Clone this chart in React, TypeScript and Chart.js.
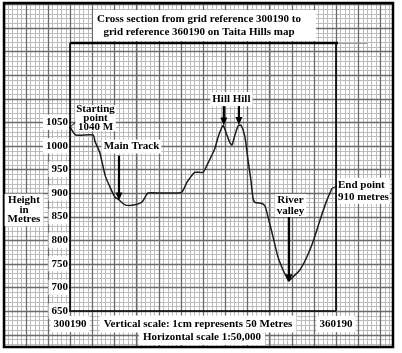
import React, { useEffect, useRef } from 'react';
import { Chart, registerables } from 'chart.js';

Chart.register(...registerables);

// Profile data: distance along the section (km from 300190) and height (m)
const distanceKm = [
  0, 0.13, 0.52, 0.565, 0.675, 0.79, 0.9, 1.015, 1.085, 1.24, 1.465, 1.625, 1.76, 2.03, 2.435, 2.525,
  2.64, 2.705, 2.82, 3.0, 3.11, 3.27, 3.34, 3.43, 3.46, 3.54, 3.61, 3.655, 3.72, 3.79, 3.855, 3.945,
  4.015, 4.08, 4.125, 4.17, 4.33, 4.4, 4.465, 4.58, 4.69, 4.805, 4.895, 4.93, 5.005, 5.185, 5.345,
  5.48, 5.64, 5.795, 5.91,
];
const heightM = [
  1040, 1023, 1023, 1009, 985, 938, 913, 891, 887, 875, 875, 881, 900, 900, 900, 902,
  923, 932, 944, 944, 963, 995, 1019, 1040, 1043, 1023, 1006, 1002, 1023, 1042, 1044, 1019,
  970, 928, 891, 880, 878, 872, 850, 807, 765, 737, 720, 714, 720, 737, 765,
  796, 843, 885, 910,
];

const yTickValues = [650, 700, 750, 800, 850, 900, 950, 1000, 1050];
const xTickValues = [0, 6];
const xTickLabels = ['300190', '360190'];

const titleLines = ['Cross section from grid reference 300190 to', 'grid reference 360190 on Taita Hills map'];
const yAxisTitle = ['Height', 'in', 'Metres'];
const scaleNotes = ['Vertical scale: 1cm represents 50 Metres', 'Horizontal scale 1:50,000'];
const startLabel = ['Starting', 'point', '1040 M'];
const endLabel = ['End point', '910 metres'];
const mainTrackLabel = 'Main Track';
const hillLabel = 'Hill Hill';
const riverLabel = ['River', 'valley'];

// feature locations (km, m)
const mainTrack = { km: 1.105, m: 884 };
const hillPeaks = [
  { km: 3.47, m: 1043 },
  { km: 3.81, m: 1044 },
];
const riverValley = { km: 4.94, m: 711 };

const FONT = 'bold 11px "Liberation Serif", "Times New Roman", serif';

function textBox(
  ctx: CanvasRenderingContext2D,
  lines: string[],
  x: number,
  y: number,
  lineH: number,
  align: 'left' | 'center' | 'right' = 'center',
  padX = 2,
  padY = 1,
) {
  ctx.save();
  ctx.font = FONT;
  const widths = lines.map((l) => ctx.measureText(l).width);
  const w = Math.max(...widths);
  const h = lineH * lines.length;
  let left = x;
  if (align === 'center') left = x - w / 2;
  if (align === 'right') left = x - w;
  const top = y - lineH / 2;
  ctx.fillStyle = '#fff';
  ctx.fillRect(left - padX, top - padY, w + padX * 2, h + padY * 2);
  ctx.fillStyle = '#000';
  ctx.textBaseline = 'middle';
  ctx.textAlign = align;
  lines.forEach((l, i) => ctx.fillText(l, x, y + i * lineH));
  ctx.restore();
}

function arrow(ctx: CanvasRenderingContext2D, x: number, y0: number, y1: number) {
  ctx.save();
  ctx.strokeStyle = '#000';
  ctx.fillStyle = '#000';
  ctx.lineWidth = 2.2;
  ctx.beginPath();
  ctx.moveTo(x, y0);
  ctx.lineTo(x, y1 - 6);
  ctx.stroke();
  ctx.beginPath();
  ctx.moveTo(x - 3.5, y1 - 8);
  ctx.lineTo(x + 3.5, y1 - 8);
  ctx.lineTo(x, y1);
  ctx.closePath();
  ctx.fill();
  ctx.restore();
}

const FRAME = { l: 4, t: 3, r: 393, b: 347 };

const paperPlugin = {
  id: 'paper',
  beforeDraw(chart: any) {
    const { ctx, width, height } = chart;
    const xs = chart.scales.x;
    const ys = chart.scales.y;
    ctx.save();
    ctx.fillStyle = '#fff';
    ctx.fillRect(0, 0, width, height);
    ctx.beginPath();
    ctx.rect(FRAME.l, FRAME.t, FRAME.r - FRAME.l, FRAME.b - FRAME.t);
    ctx.clip();
    const ox = xs.getPixelForValue(0);
    const majX = xs.getPixelForValue(0.5) - ox;
    const oy = ys.getPixelForValue(650);
    const majY = oy - ys.getPixelForValue(700);
    const grid = (sx: number, sy: number, color: string, lw: number) => {
      ctx.strokeStyle = color;
      ctx.lineWidth = lw;
      ctx.beginPath();
      for (let x = ox - Math.ceil((ox - FRAME.l) / sx) * sx; x <= FRAME.r; x += sx) {
        const px = Math.round(x) + 0.5;
        ctx.moveTo(px, FRAME.t);
        ctx.lineTo(px, FRAME.b);
      }
      for (let y = oy - Math.floor((oy - FRAME.t) / sy) * sy; y <= FRAME.b; y += sy) {
        const py = Math.round(y) + 0.5;
        ctx.moveTo(FRAME.l, py);
        ctx.lineTo(FRAME.r, py);
      }
      ctx.stroke();
    };
    grid(majX / 5, majY / 5, '#bcbcbc', 1);
    grid(majX, majY, '#6a6a6a', 1.3);
    ctx.restore();
    ctx.save();
    ctx.strokeStyle = '#000';
    ctx.lineWidth = 2.5;
    ctx.strokeRect(FRAME.l, FRAME.t, FRAME.r - FRAME.l, FRAME.b - FRAME.t);
    ctx.restore();
  },
};

const annotationPlugin = {
  id: 'annot',
  afterDraw(chart: any) {
    const { ctx, chartArea } = chart;
    const xs = chart.scales.x;
    const ys = chart.scales.y;
    const { left, right, top, bottom } = chartArea;

    // plot frame
    ctx.save();
    ctx.strokeStyle = '#000';
    ctx.lineWidth = 1.6;
    ctx.beginPath();
    ctx.moveTo(left, top);
    ctx.lineTo(left, bottom);
    ctx.lineTo(right, bottom);
    ctx.moveTo(right, top);
    ctx.lineTo(right, bottom);
    ctx.stroke();
    ctx.lineWidth = 2.5;
    ctx.beginPath();
    ctx.moveTo(left, top);
    ctx.lineTo(right + 2, top);
    ctx.stroke();
    ctx.strokeStyle = '#999';
    ctx.lineWidth = 1;
    ctx.beginPath();
    ctx.moveTo(right + 2, top + 0.5);
    ctx.lineTo(right + 31, top + 0.5);
    ctx.stroke();
    ctx.restore();

    // title
    ctx.save();
    ctx.fillStyle = '#fff';
    ctx.fillRect(93, 10, 223, 31);
    ctx.restore();
    textBox(ctx, titleLines, 199, 19.5, 12.5, 'center', 0, 0);

    // y-axis title
    textBox(ctx, yAxisTitle, 24, 200.5, 9.5, 'center', 3, 2);

    // scale notes
    textBox(ctx, [scaleNotes[0]], 198, 324, 13, 'center', 4, 2);
    textBox(ctx, [scaleNotes[1]], 202, 337.5, 13, 'center', 4, 1);

    // start point
    const sx = xs.getPixelForValue(distanceKm[0]);
    const sy = ys.getPixelForValue(heightM[0]);
    ctx.save();
    ctx.strokeStyle = '#000';
    ctx.lineWidth = 1;
    ctx.beginPath();
    ctx.moveTo(sx - 1, sy + 1);
    ctx.lineTo(sx + 6, sy - 5);
    ctx.stroke();
    ctx.restore();
    textBox(ctx, startLabel, sx + 25.5, sy - 17.5, 8.7, 'center', 1, 0);

    // end point
    const ex = xs.getPixelForValue(distanceKm[distanceKm.length - 1]);
    const ey = ys.getPixelForValue(heightM[heightM.length - 1]);
    ctx.save();
    ctx.strokeStyle = '#000';
    ctx.lineWidth = 1;
    ctx.beginPath();
    ctx.moveTo(ex, ey);
    ctx.lineTo(ex + 6, ey - 3);
    ctx.stroke();
    ctx.restore();
    textBox(ctx, endLabel, ex + 6, ey - 3.5, 12, 'left', 1, 1);

    // main track
    const mx = xs.getPixelForValue(mainTrack.km);
    const my = ys.getPixelForValue(mainTrack.m);
    arrow(ctx, mx, my - 45, my);
    textBox(ctx, [mainTrackLabel], mx + 12.5, my - 54, 12, 'center', 2, 1);

    // hills
    const hx = hillPeaks.map((p) => xs.getPixelForValue(p.km));
    const hy = hillPeaks.map((p) => ys.getPixelForValue(p.m));
    hillPeaks.forEach((_, i) => arrow(ctx, hx[i], hy[i] - 21, hy[i]));
    textBox(ctx, [hillLabel], (hx[0] + hx[1]) / 2, Math.min(...hy) - 26, 12, 'center', 2, 1);

    // river valley
    const rx = xs.getPixelForValue(riverValley.km);
    const ry = ys.getPixelForValue(riverValley.m);
    arrow(ctx, rx, ry - 66, ry);
    textBox(ctx, riverLabel, rx + 1.5, ry - 82, 10.5, 'center', 2, 1);
  },
};

export default function App() {
  const ref = useRef<HTMLCanvasElement | null>(null);
  useEffect(() => {
    if (!ref.current) return;
    const chart = new Chart(ref.current, {
      type: 'line',
      data: {
        datasets: [
          {
            data: distanceKm.map((d, i) => ({ x: d, y: heightM[i] })),
            borderColor: '#1c1c1c',
            borderWidth: 1.5,
            pointRadius: 0,
            tension: 0.2,
            fill: false,
          },
        ],
      },
      options: {
        responsive: false,
        maintainAspectRatio: false,
        animation: false,
        layout: { padding: { left: 0, right: 66, top: 43, bottom: 0 } },
        plugins: { legend: { display: false }, tooltip: { enabled: false }, title: { display: false } },
        scales: {
          x: {
            type: 'linear',
            min: 0,
            max: 6,
            grid: { display: false, drawTicks: false },
            border: { display: false },
            afterBuildTicks: (s: any) => {
              s.ticks = xTickValues.map((v) => ({ value: v }));
            },
            afterFit: (s: any) => {
              s.height = 42;
            },
            ticks: {
              autoSkip: false,
              maxRotation: 0,
              padding: 7,
              color: '#000',
              font: { family: '"Liberation Serif", serif', size: 11, weight: 'bold' },
              callback: (v: any) => xTickLabels[xTickValues.indexOf(Number(v))] ?? '',
              showLabelBackdrop: true,
              backdropColor: '#fff',
              backdropPadding: { top: 2, bottom: 1, left: 3, right: 3 },
            },
          },
          y: {
            type: 'linear',
            min: 650,
            max: 1218,
            grid: { display: false, drawTicks: false },
            border: { display: false },
            afterBuildTicks: (s: any) => {
              s.ticks = yTickValues.map((v) => ({ value: v }));
            },
            afterFit: (s: any) => {
              s.width = 70;
            },
            ticks: {
              autoSkip: false,
              padding: 2,
              color: '#000',
              font: { family: '"Liberation Serif", serif', size: 11, weight: 'bold' },
              callback: (v: any) => String(v),
              showLabelBackdrop: true,
              backdropColor: '#fff',
              backdropPadding: { top: 1, bottom: 1, left: 3, right: 1 },
            },
          },
        },
      },
      plugins: [paperPlugin, annotationPlugin],
    } as any);
    return () => chart.destroy();
  }, []);
  return (
    <div style={{ position: 'absolute', left: 0, top: 0, width: 402, height: 353 }}>
      <canvas ref={ref} width={402} height={353} style={{ display: 'block', width: 402, height: 353 }} />
    </div>
  );
}
